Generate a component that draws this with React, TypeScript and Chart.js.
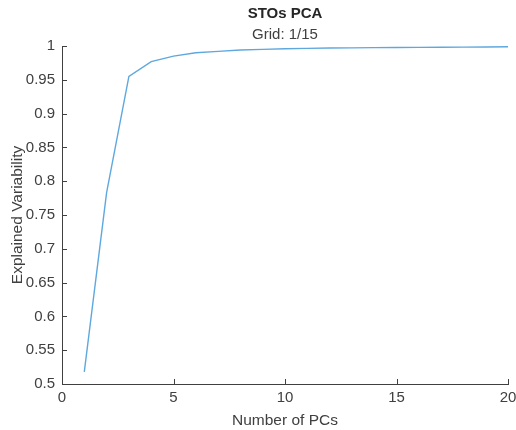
import React, { useEffect, useRef } from "react";
import { Chart, registerables } from "chart.js";

Chart.register(...registerables);

const numPCs = [1, 2, 3, 4, 5, 6, 7, 8, 9, 10, 11, 12, 13, 14, 15, 16, 17, 18, 19, 20];
const explained = [0.518, 0.783, 0.955, 0.977, 0.985, 0.990, 0.992, 0.994, 0.995, 0.996, 0.9965, 0.997, 0.9973, 0.9976, 0.9978, 0.998, 0.9982, 0.9984, 0.9986, 0.9988];
const xTicks = [0, 5, 10, 15, 20];
const yTicks = [0.5, 0.55, 0.6, 0.65, 0.7, 0.75, 0.8, 0.85, 0.9, 0.95, 1];

const AXIS = "#404040";
const FONT = "'Liberation Sans', Arial, sans-serif";

const inwardTicks = {
  id: "inwardTicks",
  afterDatasetsDraw(chart: any) {
    const { ctx, chartArea, scales } = chart;
    ctx.save();
    ctx.strokeStyle = AXIS;
    ctx.lineWidth = 1;
    const len = 5;
    ctx.beginPath();
    for (const v of xTicks) {
      const px = Math.round(scales.x.getPixelForValue(v)) + 0.5;
      ctx.moveTo(px, chartArea.bottom);
      ctx.lineTo(px, chartArea.bottom - len);
    }
    for (const v of yTicks) {
      const py = Math.round(scales.y.getPixelForValue(v)) + 0.5;
      ctx.moveTo(chartArea.left, py);
      ctx.lineTo(chartArea.left + len, py);
    }
    ctx.stroke();
    ctx.restore();
  },
};

export default function App() {
  const ref = useRef<HTMLCanvasElement>(null);
  useEffect(() => {
    if (!ref.current) return;
    const chart = new Chart(ref.current, {
      type: "line",
      data: {
        datasets: [
          {
            data: numPCs.map((x, i) => ({ x, y: explained[i] })),
            borderColor: "#5fa8de",
            borderWidth: 1.4,
            pointRadius: 0,
            tension: 0,
            fill: false,
          },
        ],
      },
      options: {
        animation: false,
        responsive: false,
        layout: { padding: { left: 0, right: 8, top: 0, bottom: 0 } },
        plugins: {
          legend: { display: false },
          tooltip: { enabled: false },
          title: {
            display: true,
            text: "STOs PCA",
            fullSize: false,
            color: "#262626",
            font: { family: FONT, size: 15, weight: "bold" },
            padding: { top: 5, bottom: 3 },
          },
          subtitle: {
            display: true,
            text: "Grid: 1/15",
            fullSize: false,
            color: "#404040",
            font: { family: FONT, size: 15 },
            padding: { top: 0, bottom: 2 },
          },
        },
        scales: {
          x: {
            type: "linear",
            min: 0,
            max: 20,
            afterBuildTicks: (s: any) => {
              s.ticks = xTicks.map((v) => ({ value: v }));
            },
            afterFit: (s: any) => {
              s.height = 46;
              s.paddingRight = 0;
              s.paddingLeft = 0;
            },
            grid: { display: false, drawTicks: false },
            border: { display: true, color: AXIS, width: 1 },
            ticks: {
              color: AXIS,
              padding: 5,
              maxRotation: 0,
              font: { family: FONT, size: 15 },
              callback: (v: any) => String(v),
            },
            title: {
              display: true,
              text: "Number of PCs",
              color: AXIS,
              font: { family: FONT, size: 15.5 },
              padding: { top: 3, bottom: 0 },
            },
          },
          y: {
            type: "linear",
            min: 0.5,
            max: 1,
            afterBuildTicks: (s: any) => {
              s.ticks = yTicks.map((v) => ({ value: v }));
            },
            afterFit: (s: any) => {
              s.width = 62;
              s.paddingTop = 0;
              s.paddingBottom = 0;
            },
            grid: { display: false, drawTicks: false },
            border: { display: true, color: AXIS, width: 1 },
            ticks: {
              color: AXIS,
              padding: 7,
              font: { family: FONT, size: 15 },
              callback: (v: any) => String(+Number(v).toFixed(2)),
            },
            title: {
              display: true,
              text: "Explained Variability",
              color: AXIS,
              font: { family: FONT, size: 15.5 },
              padding: { top: 8, bottom: 0 },
            },
          },
        },
      },
      plugins: [inwardTicks],
    } as any);
    return () => chart.destroy();
  }, []);
  return (
    <div style={{ position: "fixed", left: 0, top: 0, width: 516, height: 430, background: "#fff" }}>
      <canvas ref={ref} width={516} height={430} style={{ width: 516, height: 430 }} />
    </div>
  );
}
